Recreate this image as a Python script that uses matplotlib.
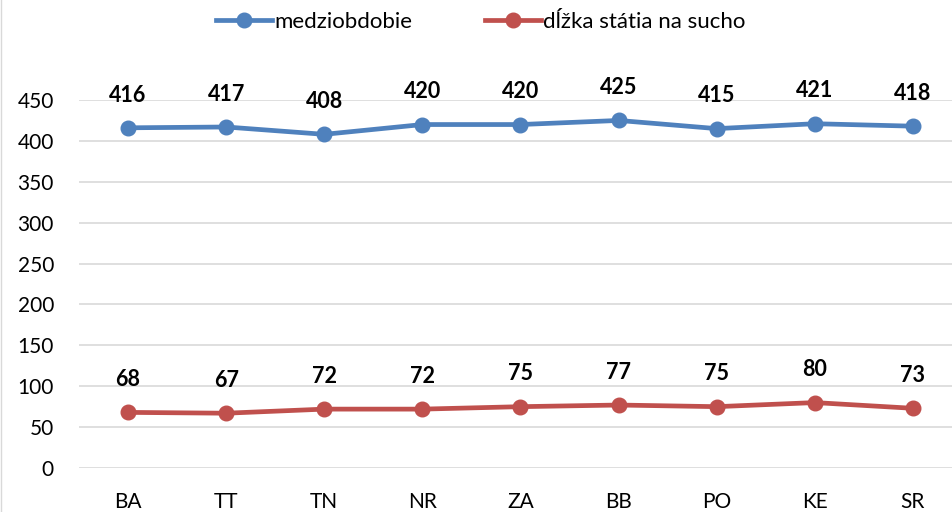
import matplotlib
matplotlib.use("Agg")
import matplotlib.pyplot as plt
from matplotlib.lines import Line2D

categories = ["BA", "TT", "TN", "NR", "ZA", "BB", "PO", "KE", "SR"]
medziobdobie = [416, 417, 408, 420, 420, 425, 415, 421, 418]
sucho = [68, 67, 72, 72, 75, 77, 75, 80, 73]
series_names = ["medziobdobie", "dĺžka státia na sucho"]
yticks = [0, 50, 100, 150, 200, 250, 300, 350, 400, 450]

blue = "#4F81BD"
red = "#C0504D"

plt.rcParams['font.family'] = ['Lato', 'DejaVu Sans']

fig = plt.figure(figsize=(9.53, 5.12), dpi=100)
ax = fig.add_axes([79/953, 1-468/512, (962-79)/953, (468-100)/512])

x = list(range(len(categories)))
for vals, col, name in [(medziobdobie, blue, series_names[0]), (sucho, red, series_names[1])]:
    ax.plot(x, vals, color=col, lw=3.4, marker='o', ms=10.5, solid_capstyle='round', label=name, clip_on=False, zorder=3)
    for xi, v in zip(x, vals):
        ax.annotate(str(v), (xi, v), xytext=(0, 16), textcoords='offset points',
                    ha='center', va='bottom', fontsize=15.5, fontweight='bold', color='#000000',
                    annotation_clip=False)

ax.set_xlim(-0.5, 8.5)
ax.set_ylim(0, 450)
ax.set_yticks(yticks)
ax.set_xticks(x)
ax.set_xticklabels(categories)
ax.grid(axis='y', color='#D9D9D9', lw=1.2)
ax.set_axisbelow(True)
for s in ax.spines.values():
    s.set_visible(False)
ax.tick_params(axis='both', length=0, labelsize=15, colors='#000000')
ax.tick_params(axis='y', pad=18)
ax.tick_params(axis='x', pad=17)

handles = [Line2D([0], [0], color=blue, lw=3.4, marker='o', ms=10.5),
           Line2D([0], [0], color=red, lw=3.4, marker='o', ms=10.5)]
fig.legend(handles, series_names, loc='center', bbox_to_anchor=(481/953, 1-22/512), ncol=2,
           frameon=False, fontsize=16, handlelength=2.5, handletextpad=0.1, columnspacing=3.3)

fig.add_artist(Line2D([0.5/953, 0.5/953], [0, 1], color='#D9D9D9', lw=1))

fig.savefig("out.png", dpi=100)
